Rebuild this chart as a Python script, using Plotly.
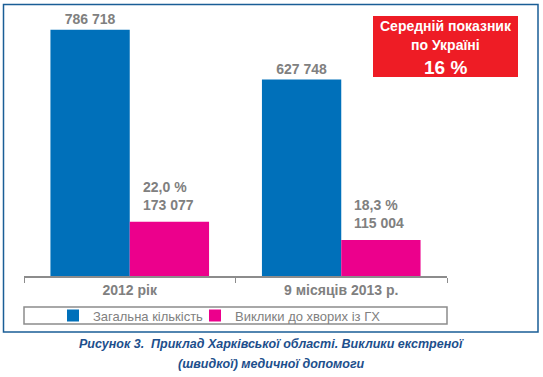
import plotly.graph_objects as go

categories = ["2012 рік", "9 місяців 2013 р."]
total_calls = [786718, 627748]
gh_calls = [173077, 115004]
gh_share = ["22,0 %", "18,3 %"]
series_names = ["Загальна кількість", "Виклики до хворих із ГХ"]
note_lines = ["Середній показник", "по Україні", "16 %"]
caption = ["Рисунок 3.  Приклад Харківської області. Виклики екстреної",
           "(швидкої) медичної допомоги"]

BLUE = "#0070ba"
PINK = "#ec008c"
GRAY = "#808080"
FONT = "Liberation Sans, Arial, sans-serif"

W, H = 543, 377
ML, MR, MT, MB = 24, 96, 10, 101
PW, PH = W - ML - MR, H - MT - MB


def px_x(p):
    return (p - ML) / PW


def px_y(p):
    return (H - MB - p) / PH


def fmt(v):
    return f"{v:,}".replace(",", " ")


fig = go.Figure()
fig.add_bar(x=categories, y=total_calls, name=series_names[0], marker_color=BLUE,
            marker_line_width=0, legend="legend",
            text=[fmt(v) for v in total_calls], textposition="outside",
            textfont=dict(size=14, color=GRAY, family=FONT, weight="bold"),
            cliponaxis=False)
fig.add_bar(x=categories, y=gh_calls, name=series_names[1], marker_color=PINK,
            marker_line_width=0, cliponaxis=False, legend="legend2")

annotations = []
for c, v, s in zip(categories, gh_calls, gh_share):
    annotations.append(dict(x=c, y=v, xref="x", yref="y", text=f"{s}<br>{fmt(v)}",
                            showarrow=False, xanchor="left", yanchor="bottom",
                            align="left", xshift=11, yshift=7,
                            font=dict(size=14, color=GRAY, family=FONT, weight="bold")))

note_y = [26, 45, 67]
note_size = [14, 14, 19]
for line, yy, sz in zip(note_lines, note_y, note_size):
    annotations.append(dict(x=px_x(445.5), y=px_y(yy), xref="paper", yref="paper",
                            text=line, showarrow=False, xanchor="center", yanchor="middle",
                            font=dict(size=sz, color="white", family=FONT, weight="bold")))

for i, line in enumerate(caption):
    annotations.append(dict(x=px_x(W / 2), y=px_y(344 + 20 * i), xref="paper", yref="paper",
                            text=line, showarrow=False, xanchor="center", yanchor="middle",
                            font=dict(size=12.5, color="#1d4f8c", family=FONT,
                                      weight="bold", style="italic")))

shapes = [
    # outer frame
    dict(type="rect", xref="paper", yref="paper", x0=px_x(3.5), x1=px_x(538), y0=px_y(332), y1=px_y(4.5),
         line=dict(color="#1a5e96", width=1.5), fillcolor="rgba(0,0,0,0)", layer="below"),
    # legend box
    dict(type="rect", xref="paper", yref="paper", x0=0, x1=1, y0=px_y(324), y1=px_y(307),
         line=dict(color="#8c8c8c", width=1.5), fillcolor="rgba(0,0,0,0)"),
    # red note box
    dict(type="rect", xref="paper", yref="paper", x0=px_x(373), x1=px_x(518), y0=px_y(77), y1=px_y(16),
         line=dict(width=0), fillcolor="#ee1c25"),
]

legend_common = dict(orientation="h", y=px_y(315.5), xanchor="left", yanchor="middle",
                     font=dict(size=13, color=GRAY, family=FONT), bgcolor="rgba(0,0,0,0)",
                     borderwidth=0, itemwidth=30)

fig.update_layout(
    width=W, height=H, margin=dict(l=ML, r=MR, t=MT, b=MB),
    paper_bgcolor="white", plot_bgcolor="white",
    barmode="group", bargap=0.25, bargroupgap=0,
    font=dict(family=FONT, color=GRAY),
    showlegend=True,
    legend=dict(x=px_x(53), **legend_common),
    legend2=dict(x=px_x(195), **legend_common),
    xaxis=dict(showline=True, linecolor="#8c8c8c", linewidth=1.5, ticks="outside",
               tickson="boundaries", ticklen=5, tickcolor="#8c8c8c", tickwidth=1,
               tickfont=dict(size=14, color=GRAY, family=FONT, weight="bold"),
               showgrid=False, zeroline=False),
    yaxis=dict(visible=False, range=[0, 850000], showgrid=False, zeroline=False),
    annotations=annotations, shapes=shapes,
)

fig.write_html("out.html", config={"displayModeBar": False},
               post_script="document.body.style.margin='0';")
